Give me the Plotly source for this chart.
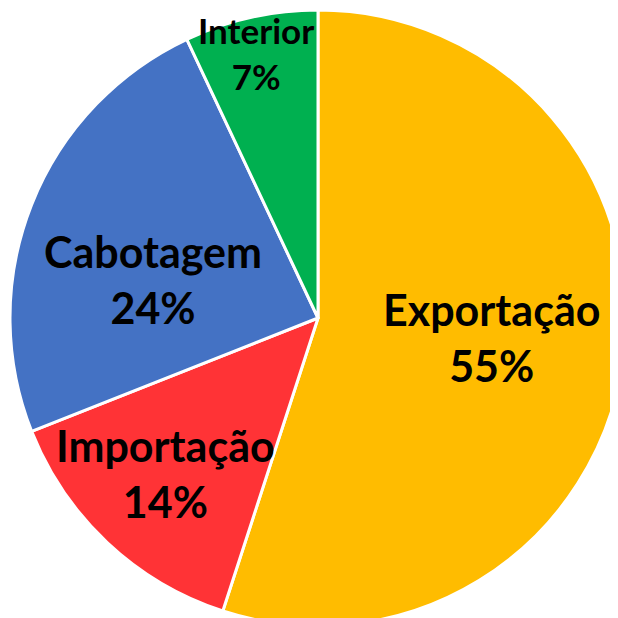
import math
import plotly.graph_objects as go

labels = ["Exportação", "Importação", "Cabotagem", "Interior"]
values = [55, 14, 24, 7]
colors = ["#FFBC00", "#FF3336", "#4472C4", "#00B050"]

# label placement (radius fraction, angle tweak in degrees, font size)
label_r = [0.594, 0.727, 0.534, 0.862]
label_dang = [0, -1.3, -11, 0]
label_size = [43, 43, 43, 35]

W = H = 618
ml, mr, mt, mb = 2, 0, 2, 0
# reference label anchor geometry in pixels
cx, cy, R = 304, 300, 305

fig = go.Figure(go.Pie(
    labels=labels, values=values, sort=False, direction="clockwise", rotation=0,
    marker=dict(colors=colors, line=dict(color="white", width=3)),
    textinfo="none", textposition="inside", hoverinfo="label+percent", showlegend=False,
    domain=dict(x=[0, 1], y=[0, 1]),
))

total = sum(values)
cum = 0
anns = []
for lab, v, rf, da, fs in zip(labels, values, label_r, label_dang, label_size):
    mid = (cum + v / 2) / total * 360 + da
    cum += v
    a = math.radians(mid)
    px = cx + rf * R * math.sin(a)
    py = cy - rf * R * math.cos(a)
    anns.append(dict(
        x=px / W, y=1 - py / H, xref="paper", yref="paper",
        text=f"<b>{lab}<br>{round(v / total * 100)}%</b>",
        showarrow=False, xanchor="center", yanchor="middle",
        font=dict(family="Lato", size=fs, color="black"),
    ))

fig.update_layout(
    width=W, height=H, margin=dict(l=ml, r=mr, t=mt, b=mb, pad=0),
    paper_bgcolor="white", plot_bgcolor="white", annotations=anns,
)
fig.write_html("out.html")
